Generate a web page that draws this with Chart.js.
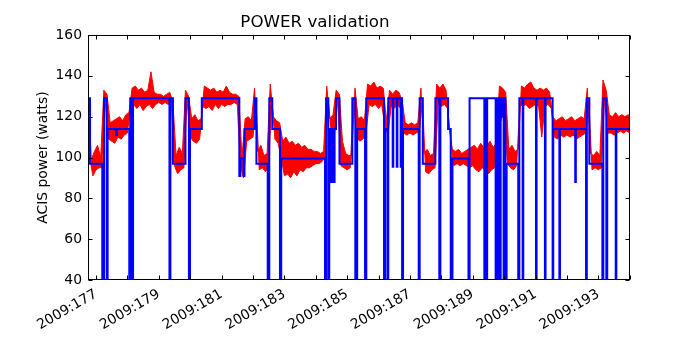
<!DOCTYPE html>
<html lang="en">
<head>
    <meta charset="UTF-8">
    <title>POWER validation</title>
    <script src="https://cdn.jsdelivr.net/npm/chart.js"></script>
    <style>
        body {
            margin: 0;
            background-color: #ffffff;
        }
        #powerChart {
            display: block;
        }
    </style>
</head>
<body>

<canvas id="powerChart" width="700" height="350"></canvas>

<script>
    // Telemetry envelope: one high and one low reading per 0.1 day, starting at day 176.75
    const sampleStart = 176.75;
    const sampleStep = 0.1;
    const telemHigh = [
        134, 99, 103, 106, 100, 133, 131, 117, 118, 119,
        120, 118, 121, 122, 134, 135, 133, 134, 132, 133,
        142, 132, 131, 131, 130, 131, 132, 127, 101, 105,
        102, 133, 130, 119, 121, 118, 119, 135, 134, 133,
        134, 132, 133, 132, 135, 132, 131, 131, 130, 100,
        119, 120, 118, 134, 103, 106, 101, 102, 136, 120,
        118, 117, 108, 110, 107, 108, 106, 107, 105, 106,
        104, 104, 103, 103, 102, 103, 135, 119, 121, 133,
        131, 108, 102, 101, 101, 134, 119, 120, 118, 136,
        135, 137, 134, 135, 134, 118, 133, 131, 133, 132,
        128, 117, 116, 117, 116, 117, 134, 102, 104, 101,
        102, 136, 134, 136, 133, 116, 104, 103, 104, 102,
        103, 104, 105, 106, 104, 107, 105, 106, 108, 105,
        107, 135, 134, 132, 104, 106, 103, 104, 135, 134,
        136, 137, 134, 133, 134, 133, 134, 132, 120, 118,
        119, 120, 118, 119, 120, 118, 119, 120, 119, 134,
        102, 101, 103, 101, 138, 133, 121, 120, 122, 120,
        121, 120, 121, 120
    ];
    const telemLow = [
        100, 91, 94, 95, 95, 128, 109, 108, 107, 110,
        109, 111, 112, 125, 126, 124, 126, 123, 125, 126,
        124, 126, 127, 126, 127, 126, 127, 96, 92, 94,
        95, 128, 110, 108, 107, 109, 125, 124, 125, 123,
        126, 124, 126, 125, 126, 126, 127, 126, 96, 90,
        108, 109, 110, 127, 94, 95, 93, 96, 129, 109,
        107, 100, 91, 92, 90, 93, 91, 94, 93, 95,
        95, 96, 97, 97, 98, 100, 128, 111, 112, 128,
        96, 95, 94, 95, 129, 110, 108, 109, 112, 126,
        125, 126, 124, 126, 116, 111, 125, 124, 126, 124,
        112, 111, 112, 111, 112, 113, 128, 93, 92, 94,
        95, 127, 125, 126, 124, 108, 96, 97, 96, 97,
        96, 95, 96, 94, 93, 95, 94, 92, 94, 95,
        126, 118, 126, 97, 95, 94, 96, 126, 125, 126,
        124, 125, 126, 125, 110, 125, 126, 124, 110, 109,
        111, 110, 111, 110, 111, 109, 110, 111, 112, 128,
        94, 95, 94, 95, 129, 112, 112, 111, 112, 113,
        112, 113, 112, 113
    ];

    // Model power: each value holds from its start day until the next one
    const modelDays = [
        176.77, 176.81, 177.20, 177.255, 177.34, 177.37, 177.635, 177.665, 178.06, 178.09,
        178.145, 178.18, 179.34, 179.37, 179.45, 179.85, 179.96, 179.995, 180.37, 181.565,
        181.60, 181.70, 181.73, 182.055, 182.11, 182.47, 182.52, 182.615, 182.86, 182.90,
        184.295, 184.33, 184.40, 184.43, 184.455, 184.475, 184.52, 184.54, 184.58, 184.60,
        184.645, 184.755, 185.165, 185.26, 185.32, 185.57, 185.61, 186.175, 186.21, 186.285,
        186.31, 186.45, 186.47, 186.58, 186.60, 186.705, 186.725, 186.75, 186.78, 187.28,
        187.31, 187.41, 187.81, 187.935, 187.97, 188.215, 188.30, 188.355, 188.865, 188.90,
        189.37, 189.415, 189.44, 189.46, 189.73, 189.765, 189.80, 189.82, 189.87, 189.89,
        189.92, 189.985, 190.01, 190.04, 190.08, 190.45, 190.485, 190.59, 190.61, 191.015,
        191.035, 191.30, 191.32, 191.545, 191.565, 191.76, 191.78, 192.265, 192.285, 192.61,
        192.635, 192.715, 193.13, 193.16, 193.255, 193.285, 193.555, 193.575, 194.05
    ];
    const modelPower = [
        129, 97, 0, 129, 0, 114, 111, 114, 0, 129,
        0, 129, 0, 129, 97, 129, 0, 114, 129, 91,
        99.5, 91, 114, 129, 97, 0, 129, 114, 0, 99.5,
        0, 129, 0, 114, 88, 114, 88, 114, 88, 114,
        129, 97, 129, 0, 114, 0, 129, 0, 114, 0,
        129, 95.5, 129, 95.5, 129, 95.5, 129, 0, 114, 0,
        129, 97, 129, 0, 129, 114, 0, 99.5, 0, 129,
        0, 129, 0, 129, 0, 129, 0, 129, 0, 120,
        129, 0, 129, 0, 97, 0, 129, 0, 129, 0,
        129, 0, 129, 0, 114, 0, 114, 88, 114, 0,
        129, 97, 0, 129, 0, 114, 0, 114, 114
    ];

    const dayTicks = [177, 179, 181, 183, 185, 187, 189, 191, 193];
    const powerTicks = [40, 60, 80, 100, 120, 140, 160];

    // high readings on the sample times, low readings half a step later
    const highPoints = telemHigh.map((v, i) => ({ x: sampleStart + i * sampleStep, y: v }));
    const lowPoints = telemLow.map((v, i) => ({ x: sampleStart + (i + 0.5) * sampleStep, y: v }));
    const modelPoints = modelDays.map((d, i) => ({ x: d, y: modelPower[i] }));

    // matplotlib-style frame with ticks pointing into the plot
    const frameTicks = {
        id: 'frameTicks',
        afterDatasetsDraw(chart) {
            const { ctx, chartArea: a, scales: { x, y } } = chart;
            const left = Math.round(a.left) + 0.5, right = Math.round(a.right) - 0.5;
            const top = Math.round(a.top) + 0.5, bottom = Math.round(a.bottom) - 0.5;
            ctx.save();
            ctx.strokeStyle = '#000000';
            ctx.lineWidth = 1;
            ctx.beginPath();
            x.ticks.forEach(t => {
                const px = Math.round(x.getPixelForValue(t.value)) + 0.5;
                ctx.moveTo(px, bottom); ctx.lineTo(px, bottom - 4);
                ctx.moveTo(px, top); ctx.lineTo(px, top + 4);
            });
            y.ticks.forEach(t => {
                const py = Math.round(y.getPixelForValue(t.value)) + 0.5;
                ctx.moveTo(left, py); ctx.lineTo(left + 4, py);
                ctx.moveTo(right, py); ctx.lineTo(right - 4, py);
            });
            ctx.stroke();
            ctx.strokeRect(left, top, right - left, bottom - top);
            ctx.restore();
        }
    };

    const font = { family: 'DejaVu Sans', size: 13.9 };

    new Chart(document.getElementById('powerChart').getContext('2d'), {
        type: 'line',
        data: {
            datasets: [
                {
                    label: 'model',
                    data: modelPoints,
                    borderColor: '#0000ff',
                    borderWidth: 2,
                    pointRadius: 0,
                    stepped: true,
                    fill: false
                },
                {
                    label: 'telemetry high',
                    data: highPoints,
                    borderColor: '#ff0000',
                    borderWidth: 1,
                    pointRadius: 0,
                    fill: false
                },
                {
                    label: 'telemetry low',
                    data: lowPoints,
                    borderColor: '#ff0000',
                    backgroundColor: '#ff0000',
                    borderWidth: 1,
                    pointRadius: 0,
                    fill: '-1'
                }
            ]
        },
        options: {
            responsive: false,
            animation: false,
            layout: { padding: { left: 0, right: 70, top: 0, bottom: 0 } },
            plugins: {
                legend: { display: false },
                tooltip: { enabled: false },
                filler: { propagate: false },
                title: {
                    display: true,
                    text: 'POWER validation',
                    color: '#000000',
                    font: { family: 'DejaVu Sans', size: 16.7, weight: 'normal' },
                    padding: { top: 13, bottom: 2 }
                }
            },
            scales: {
                x: {
                    type: 'linear',
                    min: 176.745,
                    max: 194.01,
                    border: { display: false },
                    grid: { display: false, drawTicks: false },
                    afterFit: scale => { scale.height = 70; },
                    ticks: {
                        stepSize: 1,
                        includeBounds: false,
                        autoSkip: false,
                        minRotation: 30,
                        maxRotation: 30,
                        padding: 6,
                        color: '#000000',
                        font: font,
                        callback: v => dayTicks.includes(Math.round(v)) ? '2009:' + Math.round(v) : ''
                    }
                },
                y: {
                    min: 40,
                    max: 160,
                    border: { display: false },
                    grid: { display: false, drawTicks: false },
                    afterFit: scale => { scale.width = 88; },
                    ticks: {
                        stepSize: 20,
                        padding: 6,
                        color: '#000000',
                        font: font,
                        callback: v => powerTicks.includes(v) ? String(v) : ''
                    },
                    title: {
                        display: true,
                        text: 'ACIS power (watts)',
                        color: '#000000',
                        font: font,
                        padding: { top: 35, bottom: 0 }
                    }
                }
            }
        },
        plugins: [frameTicks]
    });
</script>

</body>
</html>
